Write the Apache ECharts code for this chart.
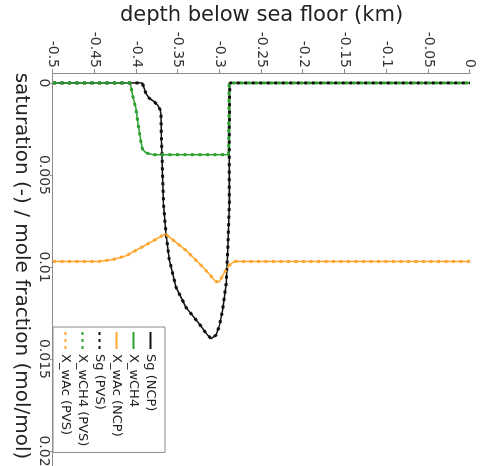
<!DOCTYPE html>
<html>
<head>
<meta charset="utf-8">
<script src="https://cdn.jsdelivr.net/npm/echarts@6/dist/echarts.min.js"></script>
<style>
  html, body { margin: 0; padding: 0; width: 482px; height: 466px; overflow: hidden; background: #fff; }
  /* chart is laid out upright, then turned a quarter clockwise like the reference */
  #chart { position: absolute; left: 0; top: 0; width: 500px; height: 482px;
           transform-origin: 0 0; transform: translate(482px, 0) rotate(90deg); }
</style>
</head>
<body>
<div id="chart"></div>
<script>
const FONT = 'DejaVu Sans'

// depth below sea floor (km)
const sgDepth = [-0.5, -0.393, -0.3906, -0.3886, -0.3846, -0.3786, -0.3746, -0.3714, -0.3706, -0.3698, -0.3686, -0.3674, -0.3645, -0.3606, -0.3525, -0.3405, -0.3245, -0.3165, -0.3105, -0.3045, -0.3005, -0.2965, -0.2924, -0.2905, -0.2885, -0.2888, -0.2882, -0.2879, 0]
const sgVal = [0, 0, 0.0003, 0.00056, 0.00083, 0.00102, 0.0012, 0.00147, 0.00174, 0.0032, 0.005, 0.0066, 0.0082, 0.0096, 0.0111, 0.0122, 0.0131, 0.0136, 0.0139, 0.0137, 0.0132, 0.0123, 0.0109, 0.0091, 0.0064, 0.0036, 0.0005, 0, 0]

const ch4Depth = [-0.5, -0.4075, -0.4047, -0.4006, -0.3978, -0.3946, -0.3927, -0.3886, -0.38, -0.2895, -0.2891, -0.2888, 0]
const ch4Val = [0, 0, 0.00065, 0.0014, 0.0023, 0.0032, 0.0036, 0.0038, 0.0039, 0.0039, 0.002, 0, 0]

const acDepth = [-0.5, -0.445, -0.4287, -0.4126, -0.3966, -0.3806, -0.3654, -0.3405, -0.3205, -0.3045, -0.3005, -0.2945, -0.2885, -0.2825, 0]
const acVal = [0.0097, 0.0097, 0.0096, 0.0094, 0.009, 0.0086, 0.0082, 0.0091, 0.01, 0.0108, 0.0108, 0.0103, 0.0099, 0.0097, 0.0097]

const satTicks = [0, 0.005, 0.01, 0.015, 0.02]

const pairs = (vals, depths) => vals.map((v, i) => [v, depths[i]])

const BLACK = '#111'
const GREEN = '#2ca02c'
const ORANGE = '#ffa62e'
const AXIS = '#8c8c8c'

// legend icons: a plain stroke and a row of dots
const SOLID_ICON = 'path://M0,0h17v2h-17z'
const DOTS_ICON = 'path://M0,0h3v2h-3zM7,0h3v2h-3zM14,0h3v2h-3z'

const ncp = (name, color, data) => ({
  name, type: 'line', data, symbol: 'none',
  lineStyle: { color, width: 1.5 },
  itemStyle: { color }
})
const pvs = (name, color, data) => ({
  name, type: 'line', data, symbol: 'none',
  lineStyle: { color, width: 3, type: [3, 4.5] },
  itemStyle: { color }
})

const chart = echarts.init(document.getElementById('chart'))

chart.setOption({
  animation: false,
  backgroundColor: '#fff',
  grid: { left: 73, top: 12, bottom: 53, right: 3, outerBoundsMode: 'none', containLabel: false },
  legend: {
    left: 327,
    top: 317,
    orient: 'vertical',
    itemWidth: 17,
    itemHeight: 2,
    itemGap: 4,
    padding: [8, 6, 6, 5],
    borderColor: AXIS,
    borderWidth: 1,
    backgroundColor: '#fff',
    textStyle: { fontFamily: FONT, fontSize: 13, color: '#222' },
    data: [
      { name: 'Sg (NCP)', icon: SOLID_ICON },
      { name: 'X_wCH4', icon: SOLID_ICON },
      { name: 'X_wAc (NCP)', icon: SOLID_ICON },
      { name: 'Sg (PVS)', icon: DOTS_ICON },
      { name: 'X_wCH4 (PVS)', icon: DOTS_ICON },
      { name: 'X_wAc (PVS)', icon: DOTS_ICON }
    ]
  },
  xAxis: {
    type: 'value',
    min: -0.00054,
    max: 0.0225,
    name: 'saturation (-) / mole fraction (mol/mol)',
    nameLocation: 'middle',
    nameGap: 22,
    nameMoveOverlap: false,
    nameTextStyle: { fontFamily: FONT, fontSize: 20, color: '#222', padding: [0, 38, 0, 0] },
    axisLine: { onZero: false, lineStyle: { color: AXIS } },
    axisTick: { customValues: satTicks, length: 3, lineStyle: { color: AXIS } },
    axisLabel: { customValues: satTicks, margin: 2, fontFamily: FONT, fontSize: 14, color: '#333' },
    splitLine: { show: false }
  },
  yAxis: {
    type: 'value',
    min: -0.5,
    max: 0,
    interval: 0.05,
    name: 'depth below sea floor (km)',
    nameLocation: 'middle',
    nameGap: 47,
    nameMoveOverlap: false,
    nameTextStyle: { fontFamily: FONT, fontSize: 21, color: '#222' },
    axisLine: { show: true, onZero: false, lineStyle: { color: AXIS } },
    axisTick: { show: true, length: 4, lineStyle: { color: AXIS } },
    axisLabel: { margin: 5, fontFamily: FONT, fontSize: 14, color: '#333' },
    splitLine: { show: false }
  },
  series: [
    ncp('Sg (NCP)', BLACK, pairs(sgVal, sgDepth)),
    ncp('X_wCH4', GREEN, pairs(ch4Val, ch4Depth)),
    ncp('X_wAc (NCP)', ORANGE, pairs(acVal, acDepth)),
    pvs('Sg (PVS)', BLACK, pairs(sgVal, sgDepth)),
    pvs('X_wCH4 (PVS)', GREEN, pairs(ch4Val, ch4Depth)),
    pvs('X_wAc (PVS)', ORANGE, pairs(acVal, acDepth))
  ]
})
</script>
</body>
</html>
